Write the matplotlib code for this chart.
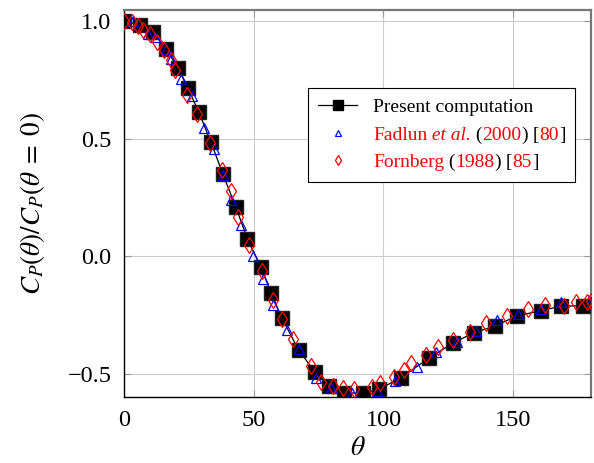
import matplotlib
matplotlib.use("Agg")
import matplotlib.pyplot as plt
from matplotlib.lines import Line2D

plt.rcParams['font.family'] = ['Liberation Serif', 'DejaVu Serif']
plt.rcParams['mathtext.fontset'] = 'stix'

# Present computation
theta_present = [0, 6.2, 11.2, 16.2, 20.8, 24.6, 28.8, 33.5, 38.1, 43.1, 47.6, 52.7,
                 56.8, 60.9, 67.3, 73.7, 79.0, 84.7, 92.0, 98.2, 106.8, 117.7, 127.0,
                 135.0, 143.0, 151.4, 160.9, 168.6, 176.9]
cp_present = [1.0, 0.983, 0.953, 0.881, 0.80, 0.715, 0.613, 0.485, 0.349, 0.209, 0.072,
              -0.046, -0.159, -0.265, -0.40, -0.495, -0.553, -0.582, -0.584, -0.567,
              -0.518, -0.433, -0.369, -0.326, -0.298, -0.255, -0.232, -0.213, -0.212]

# Fadlun et al. (2000)
theta_fadlun = [3.6, 9.2, 11.9, 16.0, 18.2, 22.1, 26.2, 30.8, 34.5, 38.0, 41.4, 45.0,
                49.8, 53.6, 57.4, 62.8, 67.3, 74.1, 79.8, 87.8, 97.6, 104.5, 112.8,
                120.3, 128.2, 135.6, 143.6, 151.7, 160.6, 168.6, 179.9]
cp_fadlun = [1.0, 0.945, 0.933, 0.88, 0.838, 0.752, 0.681, 0.545, 0.454, 0.345, 0.238,
             0.132, 0.002, -0.099, -0.208, -0.315, -0.397, -0.52, -0.56, -0.584, -0.573,
             -0.531, -0.471, -0.407, -0.365, -0.319, -0.272, -0.247, -0.226, -0.194, -0.194]

# Fornberg (1988)
theta_fornberg = [0, 3, 5.4, 7.5, 10, 12.7, 15.6, 18.3, 19.6, 24.2, 28.2, 33.1, 37.8,
                  41.2, 44.0, 48.3, 53.3, 57.4, 60.9, 65.1, 71.9, 76, 80.4, 84.6, 88.8,
                  95.6, 98.5, 104.2, 108.1, 110.6, 116.4, 120.9, 126.7, 133.3, 139.5,
                  147.8, 155.9, 162.3, 169.6, 174.1, 178.6, 179.9]
cp_fornberg = [1.0, 0.995, 0.98, 0.964, 0.946, 0.912, 0.877, 0.834, 0.79, 0.684, 0.606,
               0.479, 0.366, 0.278, 0.166, 0.049, -0.062, -0.187, -0.27, -0.355, -0.468,
               -0.535, -0.552, -0.563, -0.565, -0.556, -0.539, -0.516, -0.485, -0.457,
               -0.421, -0.389, -0.356, -0.322, -0.286, -0.254, -0.227, -0.209, -0.213,
               -0.194, -0.197, -0.19]

xticks = [0, 50, 100, 150]
yticks = [-0.5, 0.0, 0.5, 1.0]
ytick_labels = ['\u22120.5', '0.0', '0.5', '1.0']

# legend label pieces: (text, colour, style)
fadlun_pieces = [('Fadlun', 'red', 'normal'), (' et al.', 'red', 'italic'),
                 (' (', 'black', 'normal'), ('2000', 'red', 'normal'),
                 (')', 'black', 'normal'), (' [', 'black', 'normal'),
                 ('80', 'red', 'normal'), (']', 'black', 'normal')]
fornberg_pieces = [('Fornberg', 'red', 'normal'), (' (', 'black', 'normal'),
                   ('1988', 'red', 'normal'), (')', 'black', 'normal'),
                   (' [', 'black', 'normal'), ('85', 'red', 'normal'),
                   (']', 'black', 'normal')]

LEG_FS = 14

fig = plt.figure(figsize=(5.94, 4.63), dpi=100)
ax = fig.add_axes([124/594, 1 - 397/463, (591 - 124)/594, (397 - 10)/463])

ax.plot(theta_present, cp_present, color='black', lw=0.9, marker='s', ms=9.5,
        mfc='black', mec='#222222', zorder=3)
ax.plot(theta_fadlun, cp_fadlun, ls='none', marker='^', ms=7.5, mfc='none',
        mec='blue', mew=0.9, zorder=4)
ax.plot(theta_fornberg, cp_fornberg, ls='none', marker='d', ms=8.5, mfc='none',
        mec='red', mew=0.9, zorder=5)

ax.set_xlim(0, 180)
ax.set_ylim(-0.6, 1.047)
ax.set_xticks(xticks)
ax.set_xticklabels([str(t) for t in xticks])
ax.set_yticks(yticks)
ax.set_yticklabels(ytick_labels)
ax.tick_params(direction='in', length=5, width=0.8, color='#999999', labelsize=17.5,
               top=True, right=True, pad=9)
ax.grid(True, color='#cccccc', lw=0.8)
ax.set_axisbelow(True)
for s in ['left', 'bottom']:
    ax.spines[s].set_color('black')
    ax.spines[s].set_linewidth(1.0)
for s in ['top', 'right']:
    ax.spines[s].set_color('#777777')
    ax.spines[s].set_linewidth(1.6)

ax.set_xlabel(r'$\theta$', fontsize=20, labelpad=4)
ax.set_ylabel(r'$C_P(\theta)/C_P(\theta\;=\;0)$', fontsize=19.5, labelpad=15)

h1 = Line2D([], [], color='black', lw=0.9, marker='s', ms=6.5, mfc='black', mec='black')
h2 = Line2D([], [], ls='none', marker='^', ms=5, mfc='none', mec='blue', mew=0.9)
h3 = Line2D([], [], ls='none', marker='d', ms=5.5, mfc='none', mec='red', mew=0.9)


def plain(pieces):
    return ''.join(p[0] for p in pieces)


leg = ax.legend([h1, h2, h3],
                ['Present computation', plain(fadlun_pieces), plain(fornberg_pieces)],
                loc='upper right', bbox_to_anchor=(575/594, 1 - 88/463),
                bbox_transform=fig.transFigure, borderaxespad=0, fontsize=LEG_FS,
                fancybox=False, framealpha=1, edgecolor='black', handlelength=2.0,
                labelspacing=0.5, borderpad=0.55, handletextpad=0.8)
leg.get_frame().set_linewidth(0.8)
texts = leg.get_texts()

fig.canvas.draw()
renderer = fig.canvas.get_renderer()


def chain(base, pieces):
    bb = base.get_window_extent(renderer)
    x0, y0 = bb.x0, bb.y0
    base.set_visible(False)
    prev = None
    for txt, col, style in pieces:
        if prev is None:
            prev = ax.annotate(txt, xy=(x0, y0), xycoords='figure pixels',
                               va='bottom', ha='left', color=col, fontsize=LEG_FS,
                               fontstyle=style, annotation_clip=False, zorder=10)
        else:
            prev = ax.annotate(txt, xy=(1, 0), xycoords=prev,
                               va='bottom', ha='left', color=col, fontsize=LEG_FS,
                               fontstyle=style, annotation_clip=False, zorder=10)
    return prev


chain(texts[1], fadlun_pieces)
chain(texts[2], fornberg_pieces)

fig.savefig('out.png', dpi=100)
